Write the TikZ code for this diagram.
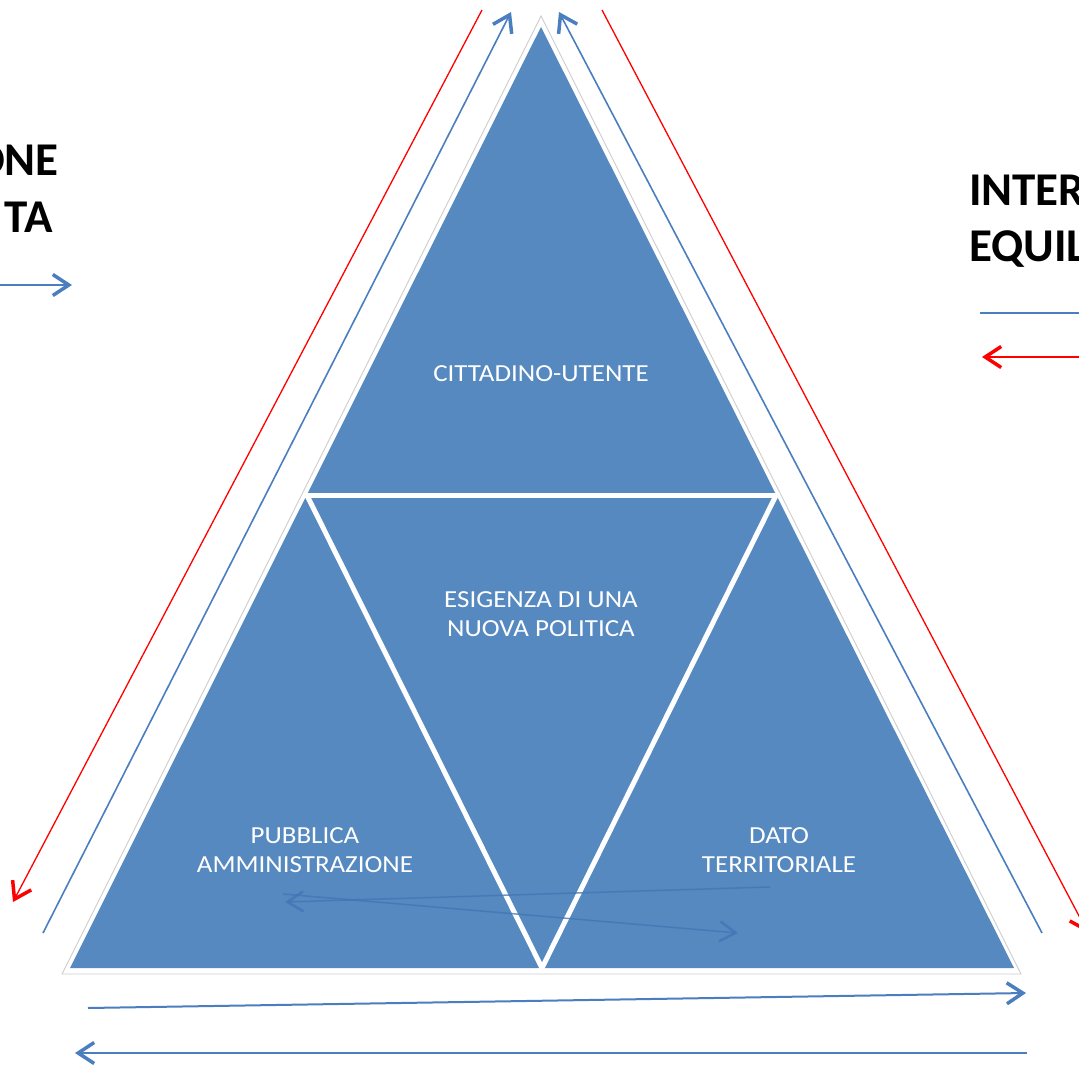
\documentclass[tikz,border=0pt]{standalone}
\usepackage{fontspec}
\setmainfont{Carlito}
\usetikzlibrary{arrows.meta}
\definecolor{triblue}{RGB}{86,137,192}
\definecolor{lineblue}{RGB}{74,126,190}
\definecolor{innerblue}{RGB}{66,115,180}
\definecolor{edgegray}{RGB}{205,205,205}
\newcommand{\widetxt}[1]{\scalebox{1.1}[1]{\begin{tabular}{@{}c@{}}#1\end{tabular}}}
\begin{document}
\begin{tikzpicture}[x=1pt,y=-1pt,
  barb/.style={-{Straight Barb[length=16pt,width=21pt,line width=3.5pt]}},
  bluearrow/.style={draw=lineblue,line width=1.6pt,barb},
  redarrow/.style={draw=red,line width=1.3pt,barb},
  innerarrow/.style={draw=innerblue,line width=1.5pt,-{Straight Barb[length=16pt,width=20pt,line width=2.5pt]}},
  tritext/.style={text=white,font=\fontsize{24.5}{29}\selectfont,align=center,inner sep=0pt},
  sidetext/.style={text=black,font=\bfseries\fontsize{47}{56}\selectfont,inner sep=0pt}]
\useasboundingbox (0,0) rectangle (1079,1065);
\fill[white] (0,0) rectangle (1079,1065);
% triangle
\coordinate (A) at (541,27);
\coordinate (BL) at (70,968);
\coordinate (BR) at (1014,968);
\coordinate (ML) at (306.8,495);
\coordinate (MR) at (776.2,495);
\coordinate (MB) at (542,968);
\draw[edgegray,line width=0.9pt,line join=miter] (541,16) -- (62,974) -- (1021,974) -- cycle;
\fill[triblue] (A) -- (BL) -- (BR) -- cycle;
\draw[white,line width=5pt] (303,495) -- (780,495);
\draw[white,line width=5pt,line join=miter] (ML) -- (MB) -- (MR);
% texts in triangles
\node[tritext] (cu) at (541,376) {\widetxt{CITTADINO-UTENTE}};
\node[tritext] (np) at (541,616) {\widetxt{ESIGENZA DI UNA\\NUOVA POLITICA}};
\node[tritext] (pa) at (305,852) {\widetxt{PUBBLICA\\AMMINISTRAZIONE}};
\node[tritext] (dt) at (779,852) {\widetxt{DATO\\TERRITORIALE}};
% side texts
\node[sidetext,anchor=base east] (l1) at (59,175) {ONE};
\node[sidetext,anchor=base east] (l2) at (53,232) {TA};
\node[sidetext,anchor=base west] (r1) at (969,205) {INTER};
\node[sidetext,anchor=base west] (r2) at (969,261) {EQUIL};
% side arrows
\coordinate (rl0) at (482,10);   \coordinate (rl1) at (13,902);
\coordinate (bl0) at (43,933);   \coordinate (bl1) at (511,12);
\coordinate (br0) at (1042,933); \coordinate (br1) at (559,12);
\coordinate (rr0) at (602,10);   \coordinate (rr1) at (1088,933);
\draw[redarrow] (rl0) -- (rl1);
\draw[bluearrow] (bl0) -- (bl1);
\draw[bluearrow] (br0) -- (br1);
\draw[redarrow] (rr0) -- (rr1);
% legend arrows
\coordinate (la0) at (-2,285);  \coordinate (la1) at (72,285);
\coordinate (rb0) at (980,313); \coordinate (rb1) at (1082,313);
\coordinate (ra0) at (1082,357); \coordinate (ra1) at (982,357);
\draw[bluearrow,line width=1.3pt] (la0) -- (la1);
\draw[draw=lineblue,line width=1.3pt] (rb0) -- (rb1);
\draw[redarrow] (ra0) -- (ra1);
% bottom arrows
\coordinate (b10) at (88,1008);  \coordinate (b11) at (1026,993);
\coordinate (b20) at (1027,1053); \coordinate (b21) at (75,1053);
\draw[bluearrow,line width=2pt] (b10) -- (b11);
\draw[bluearrow,line width=2pt] (b20) -- (b21);
% inner arrows
\coordinate (i10) at (770,887); \coordinate (i11) at (285,902);
\coordinate (i20) at (283,894); \coordinate (i21) at (738,933);
\draw[innerarrow,opacity=0.75] (i10) -- (i11);
\draw[innerarrow,opacity=0.75] (i20) -- (i21);
\end{tikzpicture}
\end{document}
